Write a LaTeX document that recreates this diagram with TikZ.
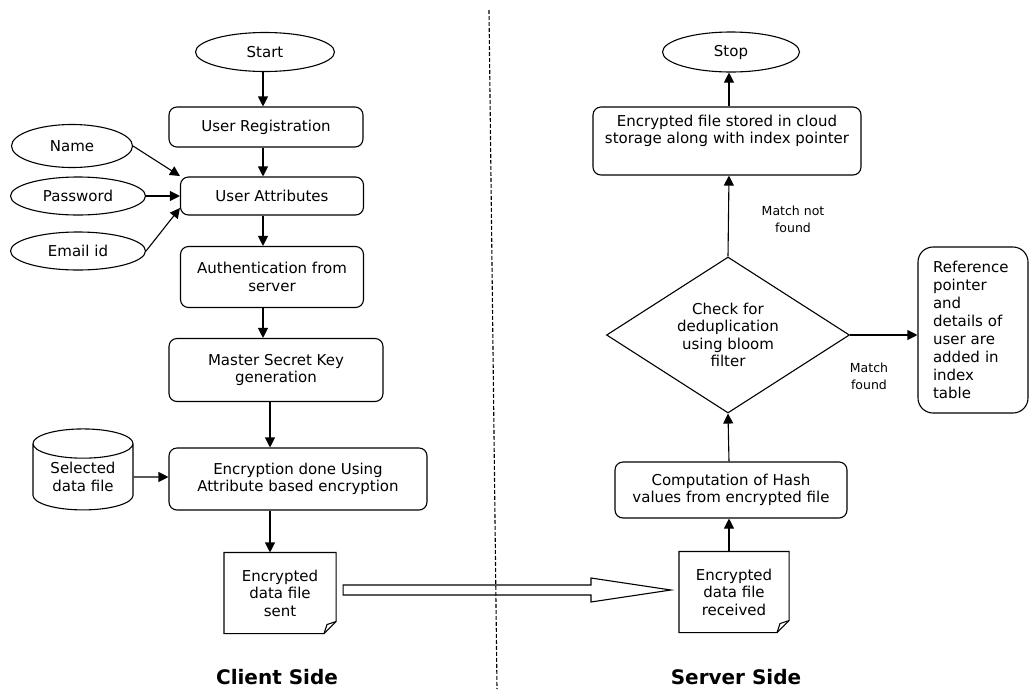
\documentclass[tikz,border=0pt]{standalone}
\usepackage{fontspec}
\setmainfont{DejaVu Sans}
\usetikzlibrary{shapes.geometric,arrows.meta,calc}
\begin{document}
\begin{tikzpicture}[x=1pt,y=-1pt,line width=1.1pt,
  font=\fontsize{15}{17.5}\selectfont,
  box/.style={draw,rounded corners=8pt,align=center,inner sep=2pt},
  oval/.style={draw,ellipse,inner sep=0pt},
  doc/.style={align=center,inner sep=0pt},
  lbl/.style={font=\fontsize{12.5}{17}\selectfont,align=center},
  side/.style={font=\fontsize{20}{24}\selectfont\bfseries},
  arr/.style={-{Triangle[length=10pt,width=10pt]}}]
\useasboundingbox (0,0) rectangle (1031,689);
\coordinate (c1) at (263,0);
\coordinate (c2) at (270,0);
\coordinate (c3) at (729,0);
%%%% client side
\node[oval,minimum width=139,minimum height=39] (start) at (265,52) {Start};
\node[box,minimum width=194,minimum height=40] (reg) at (266,127) {User Registration};
\node[box,minimum width=183,minimum height=38] (attr) at (272,196) {User Attributes};
\node[oval,minimum width=121,minimum height=43] (name) at (72,146) {Name};
\node[oval,minimum width=135,minimum height=38] (pass) at (78,196) {Password};
\node[oval,minimum width=135,minimum height=38] (mail) at (78,251) {Email id};
\node[box,minimum width=183,minimum height=61] (auth) at (272,277) {Authentication from\\server};
\node[box,minimum width=214,minimum height=63] (key) at (276,370) {Master Secret Key\\generation};
\node[box,minimum width=258,minimum height=62] (enc) at (298,479) {Encryption done Using\\Attribute based encryption};
\node[draw,cylinder,shape border rotate=90,aspect=0.45,minimum width=100,minimum height=81,
  align=center,inner sep=0pt] (file) at (83,477) {Selected\\data file};
\node[doc,minimum width=111,minimum height=80] (sent) at (280,593) {Encrypted\\data file\\sent};
\node[side] (client) at (277,677) {Client Side};
\draw[arr] (start.south -| c1) -- (reg.north -| c1);
\draw[arr] (reg.south -| c1) -- (attr.north -| c1);
\draw[arr] (attr.south -| c1) -- (auth.north -| c1);
\draw[arr] (auth.south -| c1) -- (key.north -| c1);
\draw[arr] (key.south -| c2) -- (enc.north -| c2);
\draw[arr] (enc.south -| c2) -- (sent.north -| c2);
\draw[arr] (name.east) -- ([yshift=20pt]attr.west);
\draw[arr] (pass) -- (attr);
\draw[arr] (mail.east) -- ([yshift=-12pt]attr.west);
\draw[arr] (file) -- (file -| enc.west);
%%%% server side
\node[oval,minimum width=137,minimum height=40] (stop) at (731,52) {Stop};
\node[box,minimum width=268,minimum height=68] (store) at (727,141) {Encrypted file stored in cloud\\storage along with index pointer\\[6pt]};
\node[draw,diamond,aspect=1.56,minimum width=243,minimum height=156,align=center,inner sep=0pt]
  (dup) at (728,335) {Check for\\deduplication\\using bloom\\filter};
\node[draw,rounded corners=15pt,minimum width=110,minimum height=166,text width=80,align=left,
  inner sep=0pt,font=\fontsize{15}{18}\selectfont] (ref) at (973,330)
  {Reference\\pointer\\and\\details of\\user are\\added in\\index\\table};
\node[box,minimum width=232,minimum height=56] (hash) at (731,490) {Computation of Hash\\values from encrypted file};
\node[doc,minimum width=109,minimum height=80] (recv) at (734,592) {Encrypted\\data file\\received};
\node[lbl] (nf) at (793,219) {Match not\\found};
\node[lbl] (mf) at (869,376) {Match\\found};
\node[side] (server) at (736,677) {Server Side};
\draw[arr] (recv.north -| c3) -- (hash.south -| c3);
\draw[arr] (hash.north -| c3) -- (dup.south);
\draw[arr] (dup.north) -- (store.south -| c3);
\draw[arr] (store.north -| c3) -- (stop.south -| c3);
\draw[arr] (dup.east) -- (dup.east -| ref.west);
%%%% documents, divider and transfer arrow
\foreach \n in {sent,recv}{
\draw (\n.north west) -- (\n.north east) -- ($(\n.south east)+(0,-12)$)
  -- ($(\n.south east)+(-12,0)$) -- (\n.south west) -- cycle;
\draw ($(\n.south east)+(0,-12)$) -- ($(\n.south east)+(-9,-9)$) -- ($(\n.south east)+(-12,0)$);
}
\coordinate (top) at (489,10);
\coordinate (bot) at (497,689);
\draw[dash pattern=on 4pt off 2pt] (top) -- (bot);
\coordinate (tail) at ($(sent.east)+(7,-3)$);
\coordinate (tip) at ($(recv.west)+(-8,-2)$);
\draw ($(tail)+(0,-5)$) -- ($(tip)+(-80,-5)$) -- ($(tip)+(-80,-12)$) -- (tip)
  -- ($(tip)+(-80,12)$) -- ($(tip)+(-80,5)$) -- ($(tail)+(0,5)$) -- cycle;
\end{tikzpicture}
\end{document}
